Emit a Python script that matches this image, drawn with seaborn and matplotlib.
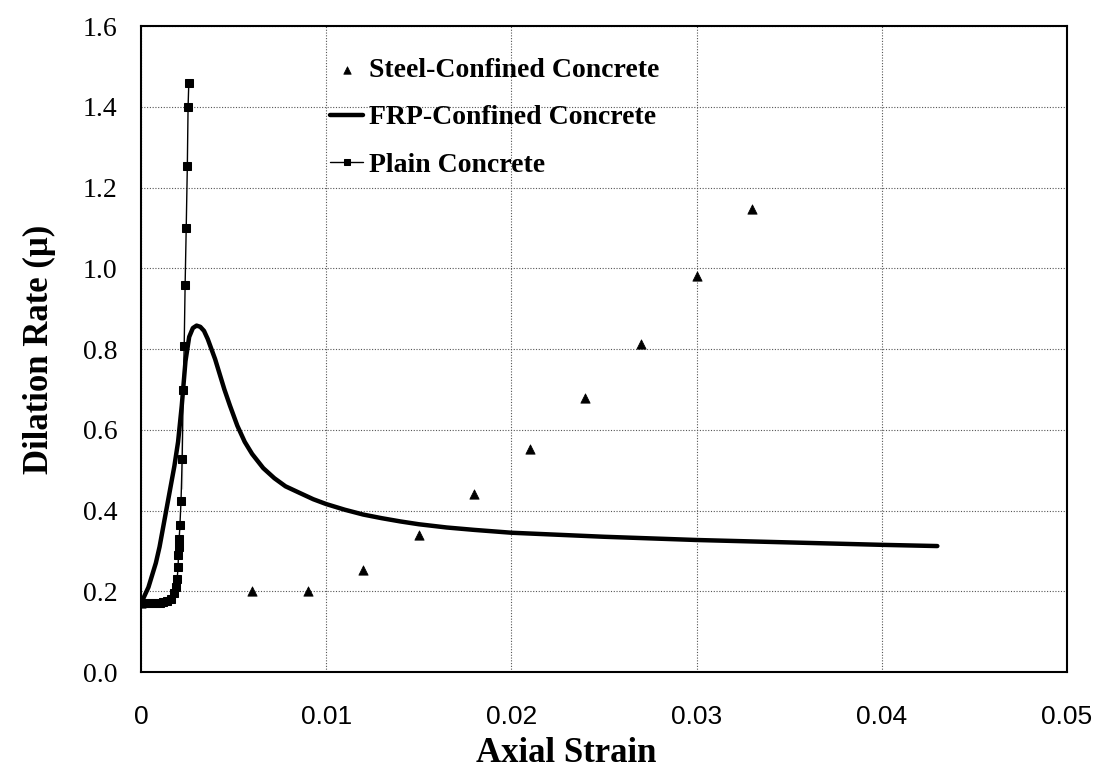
import numpy as np
import pandas as pd
import seaborn as sns
import matplotlib.pyplot as plt

# Steel-confined concrete (triangles)
steel_strain = [0.0, 0.006, 0.009, 0.012, 0.015, 0.018, 0.021, 0.024, 0.027, 0.030, 0.033]
steel_mu = [0.17, 0.20, 0.20, 0.253, 0.34, 0.44, 0.552, 0.679, 0.812, 0.98, 1.147]

# FRP-confined concrete (thick curve)
frp_strain = [0.0, 0.0002, 0.0004, 0.0006, 0.0008, 0.001, 0.0012, 0.0014, 0.0016, 0.0018,
              0.002, 0.0022, 0.0024, 0.0026, 0.0028, 0.003, 0.0032, 0.0034, 0.0036, 0.0038,
              0.004, 0.0042, 0.0045, 0.0048, 0.0052, 0.0056, 0.006, 0.0066, 0.0072, 0.0078,
              0.0085, 0.0093, 0.01, 0.011, 0.012, 0.013, 0.014, 0.015, 0.0165, 0.018,
              0.02, 0.0225, 0.025, 0.0275, 0.03, 0.0325, 0.035, 0.0375, 0.04, 0.043]
frp_mu = [0.17, 0.19, 0.21, 0.24, 0.27, 0.31, 0.36, 0.41, 0.46, 0.51,
          0.57, 0.66, 0.77, 0.83, 0.852, 0.858, 0.855, 0.845, 0.825, 0.80,
          0.775, 0.745, 0.70, 0.66, 0.61, 0.57, 0.54, 0.505, 0.48, 0.46,
          0.445, 0.428, 0.416, 0.402, 0.39, 0.381, 0.373, 0.366, 0.358, 0.352,
          0.345, 0.34, 0.335, 0.331, 0.327, 0.324, 0.321, 0.318, 0.315, 0.312]

# Plain concrete (line with squares)
plain_strain = [0.0, 0.0002, 0.0004, 0.0006, 0.0008, 0.001, 0.0012, 0.0014, 0.0016, 0.0018,
                0.0019, 0.00195, 0.002, 0.002, 0.00202, 0.00204, 0.00206, 0.0021, 0.0021,
                0.00216, 0.00222, 0.00222, 0.00222, 0.00228, 0.00233, 0.00238, 0.00244,
                0.0025, 0.00254, 0.00258]
plain_mu = [0.17, 0.17, 0.17, 0.17, 0.17, 0.171, 0.173, 0.176, 0.182, 0.195,
            0.21, 0.23, 0.25, 0.27, 0.29, 0.31, 0.33, 0.352, 0.376,
            0.424, 0.453, 0.525, 0.607, 0.698, 0.807, 0.958, 1.10,
            1.253, 1.40, 1.46]

x_ticks = [0, 0.01, 0.02, 0.03, 0.04, 0.05]
x_tick_labels = ["0", "0.01", "0.02", "0.03", "0.04", "0.05"]
y_ticks = [0.0, 0.2, 0.4, 0.6, 0.8, 1.0, 1.2, 1.4, 1.6]

steel_df = pd.DataFrame({"strain": steel_strain, "mu": steel_mu})
frp_df = pd.DataFrame({"strain": frp_strain, "mu": frp_mu})
plain_df = pd.DataFrame({"strain": plain_strain, "mu": plain_mu})

sns.set_style("white")
plt.rcParams["text.color"] = "black"
plt.rcParams["axes.labelcolor"] = "black"
plt.rcParams["xtick.color"] = "black"
plt.rcParams["ytick.color"] = "black"
serif = ["Liberation Serif", "DejaVu Serif"]

fig = plt.figure(figsize=(10.95, 7.72), dpi=100)
ax = fig.add_axes([0.1288, 0.1295, 0.8456, 0.8368])

sns.scatterplot(data=steel_df, x="strain", y="mu", marker="^", s=45, color="black",
                edgecolor="black", ax=ax, label="Steel-Confined Concrete", zorder=3)
sns.lineplot(data=frp_df, x="strain", y="mu", sort=False, color="black", linewidth=3.2,
             solid_joinstyle="round", solid_capstyle="round",
             ax=ax, label="FRP-Confined Concrete", zorder=4)
sns.lineplot(data=plain_df, x="strain", y="mu", sort=False, color="black", linewidth=1.0,
             marker="s", markersize=5.5, markeredgecolor="black", ax=ax,
             label="Plain Concrete", zorder=5)

ax.set_xlim(0, 0.05)
ax.set_ylim(0, 1.6)
ax.set_xticks(x_ticks)
ax.set_xticklabels(x_tick_labels, family=["Liberation Sans"], fontsize=19)
ax.set_yticks(y_ticks)
ax.set_yticklabels([f"{v:.1f}" for v in y_ticks], family=serif, fontsize=20)
ax.tick_params(axis="x", length=0, pad=24)
ax.tick_params(axis="y", length=0, pad=17)

ax.grid(True, color="#555555", linestyle=(0, (1, 1.5)), linewidth=0.8)
for side in ["left", "right", "top", "bottom"]:
    ax.spines[side].set_color("black")
    ax.spines[side].set_linewidth(1.5)

ax.set_xlabel("Axial Strain", family=serif, fontweight="bold", fontsize=25)
ax.set_ylabel("Dilation Rate (\u03bc)", family=serif, fontweight="bold", fontsize=25)
ax.xaxis.set_label_coords(0.459, -0.100)
ax.yaxis.set_label_coords(-0.092, 0.5)

leg = ax.legend(loc="upper left", bbox_to_anchor=(0.177, 0.990), frameon=False,
                prop={"family": serif, "weight": "bold", "size": 20},
                handlelength=1.2, handletextpad=0.2, labelspacing=0.79, markerscale=0.8)

fig.savefig("out.png", dpi=100)
